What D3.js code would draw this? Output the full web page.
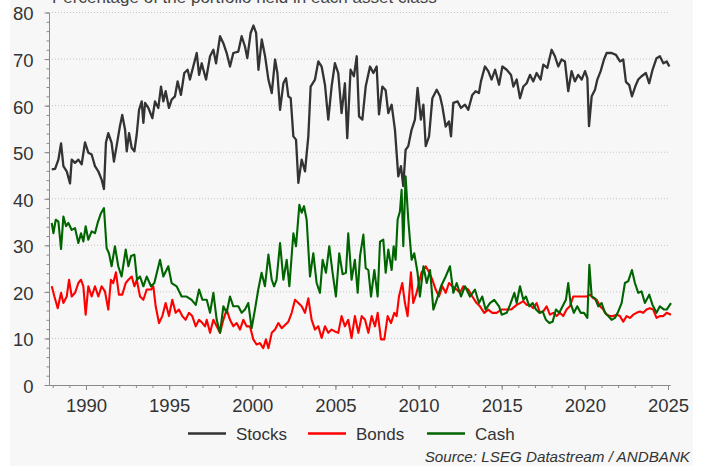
<!DOCTYPE html>
<html>
<head>
<meta charset="utf-8">
<script src="https://cdn.jsdelivr.net/npm/d3@7"></script>
<style>
body { margin: 0; background: #fff; }
svg { display: block; font-family: "Liberation Sans", Arial, sans-serif; }
</style>
</head>
<body>
<svg id="chart" width="705" height="466"></svg>
<script>
// [decimal year, % of portfolio]
var stocks = [[1987.94,46.3],[1988.14,46.4],[1988.34,48.4],[1988.50,51.9],[1988.64,47.0],[1988.84,45.9],[1989.04,43.3],[1989.14,48.4],[1989.34,47.7],[1989.54,48.4],[1989.74,47.4],[1989.94,52.1],[1990.14,49.9],[1990.34,49.5],[1990.54,47.0],[1990.74,45.9],[1990.94,44.1],[1991.08,42.1],[1991.20,52.1],[1991.34,54.1],[1991.54,52.0],[1991.68,48.0],[1991.84,51.3],[1992.04,55.6],[1992.18,58.0],[1992.35,54.8],[1992.45,50.2],[1992.59,54.1],[1992.75,50.9],[1992.91,50.2],[1993.05,53.8],[1993.19,59.1],[1993.35,60.9],[1993.45,56.3],[1993.55,60.6],[1993.75,59.5],[1993.99,57.3],[1994.15,60.9],[1994.35,59.5],[1994.51,64.1],[1994.65,60.9],[1994.79,63.1],[1994.99,59.5],[1995.15,61.3],[1995.35,62.0],[1995.51,65.2],[1995.71,62.3],[1995.91,67.0],[1996.11,67.7],[1996.25,65.6],[1996.45,68.4],[1996.66,71.3],[1996.80,66.6],[1996.96,69.1],
  [1997.06,67.7],[1997.22,65.6],[1997.46,70.6],[1997.66,72.0],[1997.82,69.1],[1998.06,74.9],[1998.26,73.4],[1998.46,71.3],[1998.66,68.4],[1998.86,71.3],[1999.16,71.6],[1999.36,74.9],[1999.56,72.7],[1999.70,70.2],[1999.90,75.6],[2000.07,77.2],[2000.23,75.6],[2000.37,67.7],[2000.57,74.2],[2000.77,70.6],[2000.97,65.6],[2001.17,62.7],[2001.37,69.9],[2001.51,67.0],[2001.67,59.1],[2001.87,64.8],[2002.03,65.9],[2002.17,62.0],[2002.31,61.6],[2002.47,53.4],[2002.63,52.7],[2002.77,43.4],[2002.97,48.4],[2003.17,45.9],[2003.37,53.4],[2003.51,64.1],[2003.77,65.6],[2003.97,69.5],[2004.17,68.4],[2004.37,64.5],[2004.57,57.0],[2004.77,64.1],[2004.97,69.1],[2005.17,67.0],[2005.37,58.4],[2005.57,64.8],[2005.71,53.0],[2005.91,67.7],[2006.11,66.3],
  [2006.28,70.6],[2006.42,57.7],[2006.62,57.0],[2006.82,64.1],[2007.08,68.4],[2007.28,67.0],[2007.48,68.4],[2007.62,58.1],[2007.82,64.1],[2008.02,63.3],[2008.18,58.4],[2008.38,60.2],[2008.58,54.8],[2008.78,44.8],[2008.94,47.0],[2009.08,42.7],[2009.22,50.5],[2009.38,51.3],[2009.58,54.8],[2009.78,57.0],[2009.94,63.8],[2010.14,57.0],[2010.29,60.2],[2010.43,51.3],[2010.63,53.4],[2010.83,61.6],[2011.09,63.4],[2011.29,62.0],[2011.43,59.8],[2011.63,55.5],[2011.83,56.6],[2011.95,53.4],[2012.09,60.6],[2012.35,60.9],[2012.55,59.5],[2012.79,60.2],[2012.99,59.1],[2013.23,62.3],[2013.43,63.1],[2013.63,62.7],[2013.75,65.2],[2013.99,68.4],[2014.19,67.4],[2014.39,65.6],[2014.60,67.7],[2014.84,64.5],[2015.04,68.4],[2015.30,67.7],[2015.56,66.6],
  [2015.70,64.1],[2015.90,65.6],[2016.10,61.6],[2016.30,64.1],[2016.50,64.8],[2016.70,66.6],[2016.90,65.2],[2017.10,67.0],[2017.34,65.6],[2017.50,68.8],[2017.74,68.1],[2018.00,72.0],[2018.20,70.6],[2018.40,68.4],[2018.60,69.9],[2018.80,69.5],[2019.00,63.1],[2019.20,67.4],[2019.40,65.2],[2019.60,66.6],[2019.81,65.6],[2020.01,67.4],[2020.15,65.9],[2020.25,55.6],[2020.41,62.0],[2020.61,63.4],[2020.75,65.6],[2020.95,67.4],[2021.15,69.9],[2021.31,71.3],[2021.61,71.3],[2021.87,70.9],[2022.11,69.5],[2022.31,69.9],[2022.47,65.1],[2022.67,64.4],[2022.83,62.0],[2023.03,64.1],[2023.21,65.6],[2023.41,66.3],[2023.67,67.0],[2023.87,64.8],[2024.07,67.7],[2024.31,70.2],[2024.51,70.6],[2024.72,69.1],[2024.92,69.5],[2025.08,68.4]];

var bonds = [[1987.94,21.2],[1988.10,19.0],[1988.30,16.5],[1988.50,19.8],[1988.64,17.6],[1988.84,19.0],[1988.98,22.6],[1989.14,19.0],[1989.34,19.8],[1989.54,21.9],[1989.70,22.6],[1989.84,21.2],[1989.98,15.1],[1990.14,21.2],[1990.34,19.0],[1990.54,21.2],[1990.74,19.0],[1990.94,21.2],[1991.14,20.1],[1991.34,16.2],[1991.50,22.6],[1991.64,21.9],[1991.80,24.2],[1991.98,19.4],[1992.18,19.4],[1992.39,21.9],[1992.55,22.6],[1992.75,23.3],[1992.91,21.2],[1993.05,22.6],[1993.25,19.0],[1993.45,18.3],[1993.65,20.5],[1993.91,20.5],[1994.05,21.2],[1994.19,16.9],[1994.39,13.3],[1994.59,14.8],[1994.79,17.6],[1994.99,14.8],[1995.19,18.3],[1995.39,15.5],[1995.59,16.2],[1995.79,14.8],[1995.99,14.0],[1996.19,15.5],[1996.39,14.8],[1996.60,12.6],[1996.80,14.0],[1997.00,13.3],[1997.16,12.6],
  [1997.26,14.0],[1997.46,11.2],[1997.66,14.0],[1997.86,12.6],[1998.06,11.2],[1998.26,14.0],[1998.46,16.2],[1998.66,14.0],[1998.86,12.6],[1999.06,13.3],[1999.26,11.9],[1999.46,14.0],[1999.66,12.6],[1999.86,12.6],[2000.06,9.8],[2000.26,8.7],[2000.46,9.0],[2000.66,7.9],[2000.82,9.8],[2000.97,7.9],[2001.17,11.2],[2001.37,11.9],[2001.57,13.3],[2001.77,12.2],[2001.97,12.9],[2002.17,13.6],[2002.37,15.5],[2002.57,18.3],[2002.77,17.6],[2002.97,16.9],[2003.17,15.5],[2003.37,18.6],[2003.57,14.0],[2003.77,11.9],[2003.97,12.6],[2004.17,10.1],[2004.37,12.6],[2004.57,11.2],[2004.77,11.9],[2004.97,11.5],[2005.17,11.2],[2005.37,14.8],[2005.57,12.6],[2005.77,14.0],[2005.97,10.1],[2006.17,14.8],
  [2006.38,11.2],[2006.58,14.8],[2006.78,14.0],[2006.98,11.2],[2007.18,14.8],[2007.38,12.6],[2007.54,15.5],[2007.74,9.8],[2007.94,9.8],[2008.14,14.8],[2008.34,13.3],[2008.54,15.5],[2008.68,14.8],[2008.82,19.0],[2009.02,21.9],[2009.18,17.6],[2009.34,14.8],[2009.54,24.2],[2009.68,17.6],[2009.88,19.8],[2010.02,21.9],[2010.18,24.2],[2010.43,25.5],[2010.63,24.2],[2010.83,22.6],[2011.03,20.5],[2011.23,19.0],[2011.43,21.2],[2011.63,19.8],[2011.83,21.9],[2012.03,21.2],[2012.29,20.5],[2012.49,19.8],[2012.69,21.2],[2012.99,20.5],[2013.23,19.0],[2013.49,17.6],[2013.69,16.9],[2013.95,15.5],[2014.19,16.2],[2014.43,15.5],[2014.69,15.5],[2014.99,16.2],[2015.30,16.2],[2015.56,16.2],
  [2015.90,17.2],[2016.10,17.6],[2016.30,18.0],[2016.50,17.2],[2016.70,17.2],[2016.90,16.5],[2017.10,17.6],[2017.30,15.5],[2017.50,15.8],[2017.70,16.9],[2017.90,15.1],[2018.10,15.5],[2018.30,14.8],[2018.50,15.5],[2018.70,14.8],[2018.90,16.2],[2019.10,16.9],[2019.30,19.0],[2019.50,19.0],[2019.70,19.0],[2019.91,19.0],[2020.11,19.0],[2020.31,19.4],[2020.51,18.6],[2020.71,18.3],[2020.91,16.9],[2021.11,16.2],[2021.31,15.1],[2021.51,14.8],[2021.71,14.8],[2021.91,15.1],[2022.11,14.8],[2022.31,13.6],[2022.51,14.8],[2022.71,14.4],[2022.91,15.1],[2023.11,15.5],[2023.31,15.8],[2023.51,15.5],[2023.71,16.2],[2023.91,16.5],[2024.11,16.2],[2024.31,14.4],[2024.51,14.8],[2024.72,14.8],[2024.92,15.5],[2025.18,15.1]];

var cash = [[1987.94,34.8],[1988.04,32.6],[1988.18,35.5],[1988.34,35.1],[1988.50,29.2],[1988.64,36.2],[1988.80,34.1],[1988.94,34.8],[1989.14,33.3],[1989.34,33.7],[1989.54,30.5],[1989.70,32.6],[1989.84,30.8],[1989.98,34.1],[1990.14,31.2],[1990.34,33.0],[1990.54,32.6],[1990.70,34.8],[1990.90,36.9],[1991.08,38.0],[1991.24,29.4],[1991.38,28.3],[1991.54,25.5],[1991.74,29.8],[1991.94,25.5],[1992.14,23.3],[1992.39,29.1],[1992.55,25.5],[1992.71,27.7],[1992.91,28.0],[1993.07,22.6],[1993.25,23.3],[1993.45,21.2],[1993.65,23.3],[1993.91,21.2],[1994.11,21.9],[1994.45,26.9],[1994.65,23.3],[1994.95,25.5],[1995.15,21.9],[1995.45,21.2],[1995.75,19.0],[1996.05,19.0],[1996.35,18.3],[1996.60,17.2],[1996.80,20.5],[1997.00,18.3],
  [1997.26,18.3],[1997.46,15.5],[1997.66,19.8],[1997.86,14.0],[1998.06,11.2],[1998.26,16.9],[1998.46,15.5],[1998.66,19.0],[1998.86,16.9],[1999.16,16.9],[1999.36,15.5],[1999.56,16.2],[1999.76,17.6],[1999.96,12.2],[2000.16,16.2],[2000.36,20.5],[2000.56,24.1],[2000.76,21.2],[2000.97,28.0],[2001.17,22.6],[2001.31,21.2],[2001.46,22.6],[2001.67,30.5],[2001.87,22.6],[2002.07,26.9],[2002.23,21.2],[2002.47,32.6],[2002.63,29.8],[2002.83,38.7],[2002.97,37.0],[2003.11,38.4],[2003.27,35.5],[2003.47,23.3],[2003.67,28.3],[2003.87,21.9],[2004.07,19.8],[2004.23,26.9],[2004.43,24.1],[2004.63,29.8],[2004.83,24.1],[2005.03,19.0],[2005.23,28.3],[2005.43,23.8],[2005.63,24.1],[2005.77,32.6],[2005.97,22.6],[2006.17,26.9],
  [2006.34,19.8],[2006.48,27.7],[2006.68,32.3],[2006.82,25.1],[2006.98,24.7],[2007.14,19.0],[2007.34,24.7],[2007.54,19.0],[2007.68,30.8],[2007.88,31.2],[2008.02,24.1],[2008.18,29.1],[2008.38,24.7],[2008.50,29.8],[2008.62,26.9],[2008.74,35.5],[2008.88,37.3],[2008.98,41.9],[2009.08,29.8],[2009.22,44.8],[2009.38,35.5],[2009.58,26.9],[2009.74,28.3],[2009.94,24.1],[2010.08,19.0],[2010.29,25.5],[2010.49,21.9],[2010.69,24.7],[2010.89,16.2],[2011.09,18.3],[2011.35,21.2],[2011.63,23.3],[2011.89,25.5],[2012.09,19.8],[2012.29,21.9],[2012.55,19.0],[2012.79,21.2],[2013.09,19.0],[2013.39,20.5],[2013.63,17.6],[2013.83,19.0],[2014.03,16.2],[2014.29,17.6],[2014.55,18.3],[2014.84,16.9],[2015.00,15.1],[2015.30,15.5],[2015.50,17.2],[2015.76,19.8],
  [2015.90,17.6],[2016.10,21.2],[2016.30,18.3],[2016.46,19.0],[2016.66,16.9],[2016.86,17.6],[2017.06,16.2],[2017.26,15.5],[2017.46,15.8],[2017.66,14.0],[2017.86,13.3],[2018.06,13.6],[2018.26,16.2],[2018.46,15.5],[2018.66,16.9],[2018.86,18.3],[2019.00,21.9],[2019.14,17.6],[2019.34,15.5],[2019.54,16.9],[2019.75,15.5],[2019.95,15.5],[2020.15,14.4],[2020.27,25.8],[2020.41,19.0],[2020.61,18.6],[2020.81,16.9],[2021.01,17.6],[2021.21,15.5],[2021.41,14.8],[2021.61,14.0],[2021.81,14.4],[2022.01,15.8],[2022.21,17.6],[2022.41,21.9],[2022.61,22.3],[2022.83,24.7],[2023.01,21.9],[2023.21,19.8],[2023.41,20.1],[2023.61,17.6],[2023.87,19.4],[2024.07,17.2],[2024.31,15.5],[2024.51,16.9],[2024.76,16.2],[2024.92,16.2],[2025.18,17.6]];

var seriesNames = ["Stocks", "Bonds", "Cash"];
var seriesColors = ["#333333", "#ff0000", "#006400"];
var yTicks = [0, 10, 20, 30, 40, 50, 60, 70, 80];
var xTicks = [1990, 1995, 2000, 2005, 2010, 2015, 2020, 2025];
var title = "Percentage of the portfolio held in each asset class";
var source = "Source: LSEG Datastream / ANDBANK";

var svg = d3.select("#chart");

// panel background
svg.append("rect")
	.attr("x", 10).attr("y", 0)
	.attr("width", 683).attr("height", 466)
	.attr("fill", "#f7f7f7");

var x = d3.scaleLinear().domain([1987.775, 2025.12]).range([49, 670]);
var y = d3.scaleLinear().domain([0, 80]).range([385, 12.5]);

// title (cut off at the top like the original)
svg.append("text")
	.attr("x", 52).attr("y", 2.5)
	.attr("font-size", 17)
	.attr("fill", "#444")
	.text(title);

// gridlines
svg.append("g").selectAll("line")
	.data(yTicks.slice(1)).enter()
	.append("line")
	.attr("x1", x.range()[0]).attr("x2", x.range()[1])
	.attr("y1", function(d) { return y(d); })
	.attr("y2", function(d) { return y(d); })
	.attr("stroke", "#c4c4c4")
	.attr("stroke-width", 1)
	.attr("stroke-dasharray", "1,2");

// y axis: minor + major
var yMinor = svg.append("g")
	.attr("transform", "translate(49,0)")
	.call(d3.axisLeft(y).tickValues(d3.range(0, 81, 2)).tickSize(2.5).tickSizeOuter(0).tickFormat(""));
var yAxis = svg.append("g")
	.attr("transform", "translate(49,0)")
	.call(d3.axisLeft(y).tickValues(yTicks).tickSize(4.5).tickSizeOuter(0).tickPadding(11));

// x axis: minor + major
var xMinor = svg.append("g")
	.attr("transform", "translate(0,385)")
	.call(d3.axisBottom(x).tickValues(d3.range(1988, 2026)).tickSize(3).tickSizeOuter(0).tickFormat(""));
var xAxis = svg.append("g")
	.attr("transform", "translate(0,385)")
	.call(d3.axisBottom(x).tickValues(xTicks).tickSize(5).tickSizeOuter(0).tickPadding(9).tickFormat(d3.format("d")));

svg.selectAll(".domain, .tick line").attr("stroke", "#8a8a8a");
yAxis.selectAll("text").attr("font-size", 18.5).attr("fill", "#333").attr("dy", "0.4em");
xAxis.selectAll("text").attr("font-size", 18.5).attr("fill", "#333");
svg.selectAll(".tick text").attr("font-family", "Liberation Sans, Arial, sans-serif");

// lines
var line = d3.line()
	.x(function(d) { return x(d[0]); })
	.y(function(d) { return y(d[1]); });

[stocks, bonds, cash].forEach(function(data, i) {
	svg.append("path")
		.datum(data)
		.attr("d", line)
		.attr("fill", "none")
		.attr("stroke", seriesColors[i])
		.attr("stroke-width", i == 0 ? 2.3 : 2.1)
		.attr("stroke-linejoin", "round");
});

// legend
var legendX = [188, 308, 427];
var legend = svg.append("g").selectAll("g")
	.data(seriesNames).enter()
	.append("g")
	.attr("transform", function(d, i) { return "translate(" + legendX[i] + ",433.5)"; });
legend.append("line")
	.attr("x1", 0).attr("x2", 38)
	.attr("stroke", function(d, i) { return seriesColors[i]; })
	.attr("stroke-width", 2.3);
legend.append("text")
	.attr("x", 48).attr("y", 6.5)
	.attr("font-size", 17)
	.attr("fill", "#333")
	.text(function(d) { return d; });

// source
svg.append("text")
	.attr("x", 690).attr("y", 461.5)
	.attr("text-anchor", "end")
	.attr("font-size", 15.2)
	.attr("font-style", "italic")
	.attr("fill", "#333")
	.text(source);
</script>
</body>
</html>
